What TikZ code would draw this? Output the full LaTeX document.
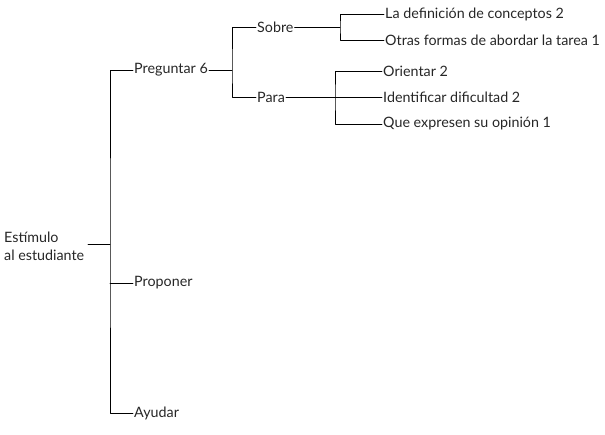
\documentclass[tikz,border=0pt]{standalone}
\usepackage{fontspec}
\setmainfont{Lato}

\begin{document}
\begin{tikzpicture}[x=1pt, y=-1pt, line cap=round, line join=round,
    lbl/.style={anchor=west, inner sep=1pt, text=black!85, font=\fontsize{14.3}{18}\selectfont},
    rama/.style={line width=0.9pt, black}]

            \useasboundingbox (0,0) rectangle (605,434);

            % raiz
            \node[lbl, align=left] (est) at (3,246) {Estímulo\\al estudiante};
            \coordinate (j0) at (110,244);
            \coordinate (r0) at (88,244);

            % primer nivel
            \node[lbl] (preg) at (133,70) {Preguntar 6};
            \node[lbl] (prop) at (133,283) {Proponer};
            \node[lbl] (ayu)  at (133,413) {Ayudar};

            \draw[rama] (r0) -- (j0);
            \draw[rama] (preg.west) -| (j0) |- (ayu.west);
            \draw[rama] (j0 |- prop.west) -- (prop.west);

            % segundo nivel
            \coordinate (j1) at (232,70);
            \node[lbl] (sob)  at (256,27) {Sobre};
            \node[lbl] (para) at (256,97) {Para};

            \draw[rama] (preg.east) -- (j1);
            \draw[rama] (sob.west) -| (j1) |- (para.west);

            % tercer nivel, sobre
            \coordinate (j2) at (340,27);
            \node[lbl] (def) at (384,14) {La definición de conceptos 2};
            \node[lbl] (otr) at (384,40) {Otras formas de abordar la tarea 1};

            \draw[rama] (sob.east) -- (j2);
            \draw[rama] (def.west) -| (j2) |- (otr.west);

            % tercer nivel, para
            \coordinate (j3) at (335,97);
            \node[lbl] (ori) at (382,71)  {Orientar 2};
            \node[lbl] (idf) at (382,97)  {Identificar dificultad 2};
            \node[lbl] (que) at (382,124) {Que expresen su opinión 1};

            \draw[rama] (para.east) -- (idf.west);
            \draw[rama] (ori.west) -| (j3) |- (que.west);

            \end{tikzpicture}
\end{document}
